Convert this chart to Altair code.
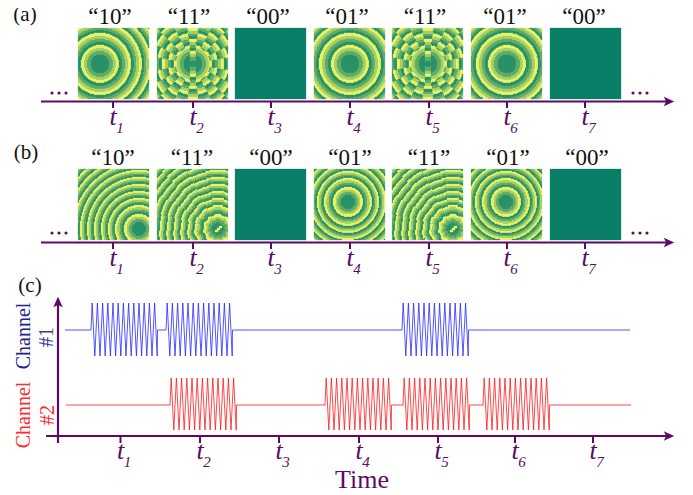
import math
import altair as alt
import pandas as pd

# ---------- values (reference pixel units) ----------
PURPLE = "#5c0a66"
level_colors = ["#2b936b", "#5fae68", "#a6d069", "#e8f46a"]
dark_panel = "#0a7f68"

panel_lefts = [78, 157, 235, 314, 392, 471, 550]
panel_size = 71
tops = {"a": 28, "b": 169}
codes = ["\u201c10\u201d", "\u201c11\u201d", "\u201c00\u201d", "\u201c01\u201d", "\u201c11\u201d", "\u201c01\u201d", "\u201c00\u201d"]

core_a = [9.5, 13, 16, 19]
rings_a = [31, 42, 51, 60, 68, 76, 84]
core_b = [7, 10, 12.5, 15]
rings_b = [24, 31, 38, 45, 52, 59, 66, 73, 80, 87, 94]

patterns = [
    (0, "a", 100, 64, "a", "plain"),
    (1, "a", 193, 64, "a", "checker"),
    (3, "a", 350, 64, "a", "plain"),
    (4, "a", 428, 64, "a", "checker"),
    (5, "a", 507, 64, "a", "plain"),
    (0, "b", 139, 229, "b", "plain"),
    (1, "b", 218, 229, "b", "wobble"),
    (3, "b", 348, 202, "b", "plain"),
    (4, "b", 453, 229, "b", "wobble"),
    (5, "b", 506, 202, "b", "plain"),
]
empty_panels = [(2, "a"), (6, "a"), (2, "b"), (6, "b")]

axis_y_ab = [101.5, 242.5]
axis_x_start, axis_x_end = 41, 668
tick_a = [113, 193, 271, 350, 429, 507, 585]
tick_c = [120.5, 200, 279, 359, 438, 515, 593]
axis_c_y = 436
axis_c_x = 58

blue_bursts = [91, 166, 402]
red_bursts = [170, 325, 403, 483]
blue_span = [65, 630]
red_span = [66, 631]
blue_levels = [330, 303, 356]
red_levels = [405, 378, 430]
burst_offsets = [1.2, 3.8, 6.4, 9.0, 11.6, 14.2, 16.8, 19.4, 22.0, 24.6, 27.2, 29.8, 32.4, 35.0,
                 37.6, 40.2, 42.8, 45.4, 48.0, 50.6, 53.2, 55.8, 58.4, 61.0, 63.6, 66.2]


def edges(core, rings):
    out = list(core)
    prev = core[-1]
    for R in rings:
        for k in range(1, 5):
            out.append(prev + (R - prev) * k / 4)
        prev = R
    return out


edge_sets = {"a": edges(core_a, rings_a), "b": edges(core_b, rings_b)}


def level(r, e):
    for i, v in enumerate(e):
        if r < v:
            return i % 4
    return 0


rows = []
for idx, col, cx, cy, ring, kind in patterns:
    x0 = panel_lefts[idx]
    y0 = tops[col]
    e = edge_sets[ring]
    for j in range(panel_size):
        py = y0 + j
        run_start = x0
        run_c = None
        for i in range(panel_size):
            px = x0 + i
            dx = px + 0.5 - cx
            dy = py + 0.5 - cy
            r = math.hypot(dx, dy)
            if kind == "checker":
                a = math.degrees(math.atan2(abs(dx), abs(dy)))
                if abs(dx) < 3.5 or (r > 17 and a < 80 and round(a / 18) % 2 == 0):
                    r += 6
            elif kind == "wobble":
                a = math.degrees(math.atan2(dx, dy))
                if round(a / 16) % 2 == 0:
                    r += 1
            c = level_colors[level(r, e)]
            if kind == "wobble" and r < 5:
                c = level_colors[0]
            if c != run_c:
                if run_c is not None:
                    rows.append({"x": run_start, "x2": px, "y": py, "y2": py + 1, "c": run_c})
                run_start, run_c = px, c
        rows.append({"x": run_start, "x2": x0 + panel_size, "y": py, "y2": py + 1, "c": run_c})
    if kind == "wobble":
        for ddx, ddy in [(-3, 1), (-1, -1), (1, -3)]:
            rows.append({"x": cx + ddx, "x2": cx + ddx + 3, "y": cy + ddy, "y2": cy + ddy + 2, "c": level_colors[3]})
for idx, col in empty_panels:
    rows.append({"x": panel_lefts[idx], "x2": panel_lefts[idx] + 71, "y": tops[col], "y2": tops[col] + 71, "c": dark_panel})
cells = pd.DataFrame(rows)

X = alt.X("x:Q", scale=alt.Scale(domain=[8, 685], nice=False, zero=False), axis=None)
Y = alt.Y("y:Q", scale=alt.Scale(domain=[495, 8], nice=False, zero=False), axis=None)

img = alt.Chart(cells).mark_rect(strokeWidth=0.3).encode(
    X, Y, x2="x2:Q", y2="y2:Q",
    color=alt.Color("c:N", scale=None), stroke=alt.Color("c:N", scale=None))

h_rules = pd.DataFrame(
    [{"x": axis_x_start, "x2": axis_x_end, "y": v} for v in axis_y_ab]
    + [{"x": 46, "x2": 668, "y": axis_c_y}])
hr = alt.Chart(h_rules).mark_rule(color=PURPLE, strokeWidth=2.2).encode(X, Y, x2="x2:Q")
v_axis = alt.Chart(pd.DataFrame([{"x": axis_c_x, "y": 443, "y2": 303}])).mark_rule(color=PURPLE, strokeWidth=2.2).encode(X, Y, y2="y2:Q")

ticks = pd.DataFrame(
    [{"x": t, "y": axis_y_ab[0], "y2": 108} for t in tick_a]
    + [{"x": t, "y": axis_y_ab[1], "y2": 249} for t in tick_a]
    + [{"x": t, "y": axis_c_y, "y2": 443} for t in tick_c])
tk = alt.Chart(ticks).mark_rule(color=PURPLE, strokeWidth=2).encode(X, Y, y2="y2:Q")

right_head = "M-1,-0.9L1,0L-1,0.9L-0.55,0Z"
up_head = "M-0.9,1L0,-1L0.9,1L0,0.55Z"
heads_r = pd.DataFrame({"x": [669, 669, 669], "y": [101.5, 242.5, 436]})
arrows_r = alt.Chart(heads_r).mark_point(shape=right_head, filled=True, color=PURPLE, size=110, opacity=1).encode(X, Y)
arrows_u = alt.Chart(pd.DataFrame({"x": [58], "y": [302]})).mark_point(shape=up_head, filled=True, color=PURPLE, size=110, opacity=1).encode(X, Y)

dots = pd.DataFrame([{"x": x, "y": y} for y in [93, 233] for x in [52, 59, 66, 633, 640, 647]])
dt = alt.Chart(dots).mark_point(shape="circle", filled=True, color=PURPLE, size=10, opacity=1).encode(X, Y)


def text_layer(df, size, color, style="normal", angle=0):
    return alt.Chart(df).mark_text(
        font="Liberation Serif", fontSize=size, color=color, fontStyle=style,
        baseline="alphabetic", align="center", angle=angle).encode(X, Y, text="t:N")


code_x_a = [110, 189, 268, 347, 425, 505, 584]
code_x_b = [113, 192, 271, 350, 429, 508, 587]
codes_df = pd.DataFrame(
    [{"x": x, "y": 24, "t": t} for x, t in zip(code_x_a, codes)]
    + [{"x": x, "y": 165, "t": t} for x, t in zip(code_x_b, codes)])
t_codes = text_layer(codes_df, 23, "#111111")
letters = pd.DataFrame({"x": [25, 26, 30], "y": [21, 159, 292], "t": ["(a)", "(b)", "(c)"]})
t_letters = text_layer(letters, 21, "#111111")

t_rows, sub_rows = [], []
for xs, by, sy in [(tick_a, 125, 133), (tick_a, 266, 274), (tick_c, 459, 467)]:
    for n, xv in enumerate(xs, start=1):
        t_rows.append({"x": xv, "y": by, "t": "t"})
        sub_rows.append({"x": xv + 7, "y": sy, "t": str(n)})
t_t = text_layer(pd.DataFrame(t_rows), 26, PURPLE, "italic")
t_sub = text_layer(pd.DataFrame(sub_rows), 15, PURPLE, "italic")
t_time = text_layer(pd.DataFrame({"x": [362], "y": [488], "t": ["Time"]}), 26, PURPLE)

rot_blue = text_layer(pd.DataFrame({"x": [30], "y": [336], "t": ["Channel"]}), 20, "#22228c", angle=270)
rot_b1 = text_layer(pd.DataFrame({"x": [53], "y": [337], "t": ["#1"]}), 20, "#3a3a8c", angle=270)
rot_red = text_layer(pd.DataFrame({"x": [30], "y": [415], "t": ["Channel"]}), 20, "#ff2a2a", angle=270)
rot_r2 = text_layer(pd.DataFrame({"x": [54], "y": [415], "t": ["#2"]}), 20, "#ff2a2a", angle=270)


def wave(span, starts, levels):
    base, hi, lo = levels
    pts = [(span[0], base)]
    for s in starts:
        pts.append((s, base))
        for k, o in enumerate(burst_offsets):
            pts.append((s + o, hi if k % 2 == 0 else lo))
        pts.append((s + burst_offsets[-1] + 0.3, base))
    pts.append((span[1], base))
    return pd.DataFrame({"x": [p[0] for p in pts], "y": [p[1] for p in pts], "o": range(len(pts))})


line_blue = alt.Chart(wave(blue_span, blue_bursts, blue_levels)).mark_line(color="#2a2aff", strokeWidth=0.8).encode(X, Y, order="o:Q")
line_red = alt.Chart(wave(red_span, red_bursts, red_levels)).mark_line(color="#ff1a1a", strokeWidth=0.8).encode(X, Y, order="o:Q")

chart = alt.layer(
    img, hr, v_axis, tk, arrows_r, arrows_u, dt, t_codes, t_letters, t_t, t_sub, t_time,
    rot_blue, rot_b1, rot_red, rot_r2, line_blue, line_red
).properties(
    width=677, height=487, padding=0, background="white",
    autosize=alt.AutoSizeParams(type="none")
).configure_view(stroke=None)

chart.save("out.html", embed_options={"renderer": "svg", "actions": False})
